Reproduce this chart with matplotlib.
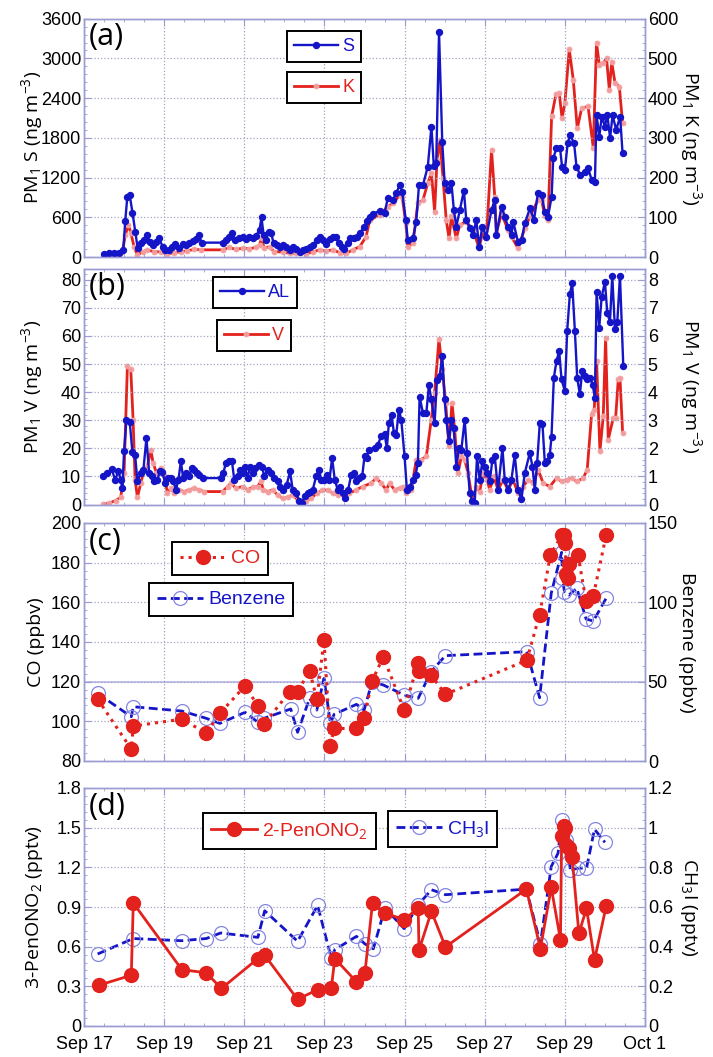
import numpy as np
import matplotlib
matplotlib.use('Agg')
import matplotlib.pyplot as plt
from matplotlib import font_manager
from matplotlib.ticker import MultipleLocator, AutoMinorLocator, FormatStrFormatter

names = {f.name for f in font_manager.fontManager.ttflist}
NARROW = 'Liberation Sans Narrow' if 'Liberation Sans Narrow' in names else 'Liberation Sans'
plt.rcParams.update({
    'font.family': [NARROW, 'DejaVu Sans'],
    'mathtext.fontset': 'custom',
    'mathtext.rm': 'Open Sans',
    'mathtext.it': 'Open Sans:italic',
    'mathtext.default': 'rm',
})

# x axis: day of September
XTICKS = [17, 19, 21, 23, 25, 27, 29, 31]
XLABELS = ['Sep 17', 'Sep 19', 'Sep 21', 'Sep 23', 'Sep 25', 'Sep 27', 'Sep 29', 'Oct 1']

# (a) PM1 S (left, ng m-3) and PM1 K (right, ng m-3)
S_PTS = [(17.50, 45), (17.63, 55), (17.75, 55), (17.88, 65), (17.98, 106), (18.03, 549), (18.08, 902),
         (18.14, 937), (18.21, 670), (18.28, 383), (18.34, 131), (18.42, 207), (18.50, 257), (18.57, 333),
         (18.64, 232), (18.73, 181), (18.79, 232), (18.88, 282), (18.96, 156), (19.03, 106), (19.11, 106),
         (19.19, 156), (19.27, 192), (19.36, 131), (19.46, 192), (19.54, 181), (19.61, 207), (19.71, 247),
         (19.79, 267), (19.86, 333), (19.94, 217), (20.46, 217), (20.54, 257), (20.63, 297), (20.69, 358),
         (20.78, 257), (20.88, 282), (20.96, 297), (21.04, 267), (21.13, 297), (21.21, 282), (21.29, 318),
         (21.38, 408), (21.43, 600), (21.48, 333), (21.54, 257), (21.61, 383), (21.67, 368), (21.73, 207),
         (21.81, 181), (21.88, 156), (21.96, 181), (22.04, 156), (22.13, 106), (22.21, 156), (22.29, 116),
         (22.38, 81), (22.46, 106), (22.54, 116), (22.63, 146), (22.71, 181), (22.81, 257), (22.88, 307),
         (22.96, 257), (23.04, 197), (23.13, 267), (23.21, 297), (23.28, 297), (23.36, 207), (23.44, 156),
         (23.50, 116), (23.58, 207), (23.64, 282), (23.73, 282), (23.81, 297), (23.89, 358), (23.98, 451),
         (24.06, 537), (24.14, 610), (24.22, 650), (24.38, 700), (24.50, 660), (24.58, 887), (24.71, 862),
         (24.79, 963), (24.88, 1089), (24.94, 988), (25.03, 560), (25.08, 257), (25.21, 282), (25.29, 534),
         (25.36, 1089), (25.46, 1089), (25.58, 1366), (25.67, 1971), (25.73, 1371), (25.79, 1416),
         (25.86, 3392), (25.94, 1744), (26.00, 1114), (26.08, 1013), (26.17, 1114), (26.23, 711),
         (26.29, 459), (26.38, 711), (26.48, 1003), (26.54, 560), (26.63, 433), (26.71, 333), (26.79, 560),
         (26.86, 156), (26.94, 459), (27.04, 307), (27.17, 711), (27.25, 862), (27.29, 333), (27.42, 761),
         (27.50, 610), (27.58, 459), (27.67, 333), (27.71, 534), (27.83, 232), (27.92, 257), (28.00, 509),
         (28.13, 736), (28.23, 560), (28.33, 973), (28.42, 938), (28.50, 685), (28.58, 610), (28.67, 912),
         (28.71, 1492), (28.79, 1643), (28.88, 1643), (28.93, 1366), (29.00, 1315), (29.07, 1719),
         (29.13, 1845), (29.23, 1719), (29.29, 1366), (29.38, 1240), (29.50, 1290), (29.58, 1341),
         (29.67, 1164), (29.75, 1139), (29.79, 2147), (29.86, 1819), (29.92, 2122), (30.00, 1971),
         (30.06, 2147), (30.13, 1794), (30.19, 2147), (30.28, 1920), (30.38, 2122), (30.44, 1567)]
K_PTS = [(17.50, 2.5), (17.71, 2.5), (17.88, 4), (17.96, 13), (18.03, 55), (18.11, 81), (18.17, 60),
         (18.25, 26), (18.33, 5), (18.46, 13), (18.58, 18), (18.75, 13), (18.92, 13), (19.08, 7.5),
         (19.25, 11), (19.42, 13), (19.58, 16), (19.75, 19), (19.92, 18), (20.46, 18), (20.63, 24),
         (20.79, 19), (20.96, 22), (21.13, 21), (21.29, 24), (21.38, 30), (21.43, 47), (21.50, 22),
         (21.63, 26), (21.75, 13), (21.96, 13), (22.13, 9), (22.29, 9), (22.42, 13), (22.54, 7.5),
         (22.71, 13), (22.88, 18), (23.04, 15), (23.21, 18), (23.38, 11), (23.54, 9), (23.71, 18),
         (23.88, 26), (24.04, 51), (24.13, 93), (24.38, 106), (24.58, 127), (24.71, 135), (24.88, 156),
         (24.94, 152), (25.03, 85), (25.08, 26), (25.21, 35), (25.33, 135), (25.46, 144), (25.58, 186),
         (25.67, 211), (25.75, 114), (25.81, 245), (25.88, 295), (25.96, 198), (26.04, 93), (26.11, 47),
         (26.17, 102), (26.29, 47), (26.38, 81), (26.54, 89), (26.71, 68), (26.86, 22), (26.96, 68),
         (27.04, 47), (27.17, 270), (27.25, 152), (27.29, 60), (27.42, 110), (27.58, 68), (27.67, 51),
         (27.83, 22), (28.00, 72), (28.13, 102), (28.33, 144), (28.42, 144), (28.50, 102), (28.58, 93),
         (28.67, 354), (28.78, 411), (28.86, 412), (28.93, 350), (29.00, 387), (29.11, 523), (29.21, 446),
         (29.31, 324), (29.42, 375), (29.58, 379), (29.71, 274), (29.79, 540), (29.86, 484), (29.96, 488),
         (30.04, 501), (30.11, 421), (30.17, 491), (30.25, 439), (30.36, 429), (30.44, 337)]

# (b) PM1 Al (left) and PM1 V (right)
AL_PTS = [(17.475, 10.0), (17.583, 11.2), (17.692, 12.6), (17.775, 8.8), (17.858, 11.8), (17.917, 8.8),
          (17.958, 5.8), (18.0, 18.9), (18.058, 30.0), (18.142, 29.3), (18.208, 18.6), (18.275, 17.7),
          (18.333, 8.2), (18.417, 11.2), (18.483, 12.4), (18.558, 23.7), (18.625, 11.2), (18.692, 10.0),
          (18.758, 8.2), (18.833, 8.8), (18.892, 11.8), (18.958, 11.4), (19.025, 7.6), (19.092, 9.4),
          (19.167, 9.4), (19.233, 8.2), (19.292, 5.2), (19.358, 8.8), (19.417, 15.4), (19.475, 9.4),
          (19.542, 11.2), (19.625, 10.0), (19.692, 13.0), (19.75, 12.4), (19.808, 11.2), (19.875, 10.6),
          (19.975, 9.4), (20.417, 9.4), (20.475, 11.2), (20.542, 14.8), (20.625, 15.4), (20.692, 15.4),
          (20.75, 8.8), (20.833, 10.0), (20.892, 12.4), (20.958, 11.2), (21.017, 13.3), (21.083, 9.4),
          (21.142, 13.5), (21.208, 11.2), (21.275, 13.0), (21.375, 14.2), (21.442, 13.5), (21.5, 10.0),
          (21.583, 12.4), (21.667, 11.2), (21.75, 9.4), (21.833, 8.2), (21.9, 6.4), (21.975, 5.2),
          (22.058, 7.0), (22.142, 11.8), (22.208, 5.2), (22.292, 4.0), (22.375, 1.4), (22.442, 0.5),
          (22.508, 2.9), (22.583, 4.0), (22.65, 4.6), (22.708, 5.2), (22.792, 10.0), (22.858, 12.4),
          (22.925, 8.8), (22.992, 8.8), (23.058, 10.6), (23.125, 8.8), (23.192, 16.5), (23.258, 8.8),
          (23.333, 5.2), (23.4, 6.4), (23.458, 4.0), (23.525, 2.2), (23.592, 5.2), (23.667, 10.6),
          (23.733, 11.2), (23.792, 8.2), (23.875, 9.4), (23.942, 10.0), (24.0, 17.1), (24.058, 16.5),
          (24.108, 19.5), (24.25, 20.1), (24.333, 21.3), (24.417, 24.3), (24.5, 25.2), (24.558, 20.1),
          (24.608, 29.0), (24.675, 31.9), (24.733, 25.6), (24.792, 24.8), (24.858, 33.8), (24.917, 30.2),
          (25.0, 17.1), (25.058, 5.2), (25.125, 6.4), (25.208, 8.8), (25.275, 10.6), (25.333, 14.8),
          (25.375, 38.3), (25.458, 32.6), (25.542, 32.4), (25.608, 42.7), (25.667, 37.4), (25.75, 29.0),
          (25.808, 44.3), (25.875, 45.7), (25.942, 52.9), (26.0, 37.4), (26.042, 30.0), (26.108, 22.5),
          (26.167, 30.2), (26.225, 27.1), (26.292, 13.5), (26.358, 20.1), (26.417, 19.5), (26.5, 30.2),
          (26.558, 18.3), (26.625, 4.0), (26.692, 1.1), (26.75, 0.5), (26.808, 17.1), (26.875, 8.8),
          (26.942, 15.4), (27.0, 13.5), (27.058, 11.2), (27.125, 8.2), (27.192, 15.9), (27.25, 17.1),
          (27.333, 5.2), (27.442, 20.1), (27.5, 8.8), (27.583, 5.2), (27.667, 8.8), (27.75, 17.7),
          (27.833, 5.2), (27.917, 1.9), (28.0, 11.2), (28.125, 18.3), (28.192, 13.5), (28.25, 5.2),
          (28.308, 14.8), (28.375, 29.0), (28.442, 28.5), (28.5, 14.8), (28.558, 15.4), (28.625, 17.7),
          (28.667, 24.2), (28.725, 45.1), (28.792, 51.1), (28.858, 54.6), (28.917, 44.5), (29.0, 40.4),
          (29.058, 61.8), (29.125, 74.9), (29.183, 78.8), (29.25, 61.8), (29.308, 45.1), (29.375, 39.2),
          (29.433, 47.5), (29.5, 45.7), (29.558, 44.5), (29.625, 45.1), (29.692, 42.7), (29.75, 38.0),
          (29.792, 75.7), (29.858, 63.0), (29.917, 73.7), (30.0, 79.3), (30.058, 68.3), (30.125, 65.0),
          (30.183, 81.4), (30.25, 62.4), (30.308, 64.8), (30.375, 81.4), (30.458, 49.3)]
V_PTS = [(17.475, 0.01), (17.625, 0.05), (17.792, 0.14), (17.917, 0.26), (18.0, 1.12), (18.083, 4.93),
         (18.167, 4.81), (18.225, 3.02), (18.275, 0.88), (18.333, 0.26), (18.417, 0.76), (18.5, 1.24),
         (18.583, 1.35), (18.667, 1.95), (18.725, 1.48), (18.808, 1.12), (18.917, 1.30), (19.0, 1.06),
         (19.083, 0.40), (19.167, 0.58), (19.25, 0.40), (19.375, 0.52), (19.5, 0.46), (19.625, 0.52),
         (19.75, 0.58), (19.875, 0.52), (20.0, 0.46), (20.458, 0.46), (20.583, 0.64), (20.667, 0.76),
         (20.792, 0.58), (20.958, 0.64), (21.083, 0.52), (21.208, 0.62), (21.333, 0.64), (21.417, 0.82),
         (21.475, 0.52), (21.583, 0.46), (21.708, 0.52), (21.833, 0.34), (21.958, 0.22), (22.083, 0.26),
         (22.208, 0.34), (22.333, 0.17), (22.417, 0.05), (22.542, 0.14), (22.667, 0.22), (22.808, 0.40),
         (22.942, 0.50), (23.083, 0.52), (23.208, 0.40), (23.333, 0.34), (23.5, 0.40), (23.625, 0.40),
         (23.792, 0.52), (23.958, 0.64), (24.167, 0.76), (24.292, 0.94), (24.417, 0.76), (24.542, 0.52),
         (24.625, 0.76), (24.75, 0.52), (24.875, 0.58), (24.958, 0.64), (25.042, 0.40), (25.167, 0.52),
         (25.292, 1.60), (25.417, 1.60), (25.542, 1.71), (25.667, 3.02), (25.75, 3.98), (25.858, 5.88),
         (25.942, 4.81), (26.025, 3.62), (26.108, 2.07), (26.183, 3.62), (26.25, 2.67), (26.333, 1.12),
         (26.417, 1.71), (26.5, 1.60), (26.583, 1.12), (26.692, 0.17), (26.792, 0.64), (26.875, 0.46),
         (26.958, 1.12), (27.058, 0.88), (27.125, 0.52), (27.225, 1.00), (27.333, 0.52), (27.458, 0.88),
         (27.583, 0.52), (27.708, 0.88), (27.833, 0.40), (27.958, 0.64), (28.083, 0.88), (28.208, 0.76),
         (28.333, 1.24), (28.458, 0.76), (28.625, 0.64), (28.792, 0.94), (28.917, 0.82), (29.042, 0.88),
         (29.167, 0.94), (29.292, 0.82), (29.458, 0.94), (29.558, 1.24), (29.667, 3.21), (29.733, 3.38),
         (29.792, 5.11), (29.875, 1.89), (29.958, 3.14), (30.017, 5.94), (30.083, 2.31), (30.208, 3.08),
         (30.267, 3.08), (30.333, 4.45), (30.375, 4.51), (30.442, 2.55)]

# (c) CO (left, ppbv) and benzene (right, ppbv)
CO_PTS = [(17.34, 111.2), (18.18, 86.0), (18.23, 97.6), (19.44, 101.1), (20.05, 94.1), (20.39, 104.0),
          (21.02, 117.9), (21.34, 107.7), (21.49, 98.5), (22.13, 114.9), (22.33, 114.9), (22.63, 125.6),
          (22.81, 111.2), (22.99, 140.9), (23.15, 87.6), (23.24, 96.4), (23.80, 96.4), (23.99, 101.8),
          (24.19, 120.4), (24.47, 132.5), (24.99, 105.7), (25.34, 129.5), (25.36, 125.3), (25.66, 123.3),
          (26.02, 113.6), (28.05, 130.8), (28.37, 153.8), (28.64, 184.0), (28.92, 193.8), (28.98, 194.0),
          (29.01, 190.1), (29.03, 174.5), (29.07, 172.5), (29.10, 179.5), (29.33, 183.7), (29.53, 160.5),
          (29.71, 163.2), (30.03, 193.8)]
BENZ_PTS = [(17.34, 42.6), (18.18, 27.9), (18.23, 34.2), (19.44, 31.5), (20.05, 26.9), (20.39, 23.7),
            (21.02, 30.7), (21.34, 24.4), (21.49, 26.9), (22.16, 32.8), (22.33, 18.1), (22.63, 39.5),
            (22.81, 32.1), (22.99, 52.1), (23.15, 23.7), (23.24, 29.4), (23.80, 35.7), (23.99, 32.1),
            (24.19, 50.0), (24.47, 47.9), (24.99, 41.6), (25.34, 39.5), (25.66, 56.3), (26.02, 66.4),
            (28.05, 68.9), (28.37, 39.9), (28.66, 105.7), (28.92, 131.5), (28.94, 115.1), (28.99, 106.7),
            (29.10, 104.6), (29.30, 108.8), (29.53, 89.5), (29.71, 88.2), (30.03, 102.5)]

# (d) 2-PenONO2 (left, pptv) and CH3I (right, pptv)
PEN_PTS = [(17.38, 0.309), (18.18, 0.384), (18.23, 0.930), (19.44, 0.427), (20.05, 0.402), (20.43, 0.284),
           (21.34, 0.510), (21.51, 0.535), (22.33, 0.201), (22.83, 0.276), (23.17, 0.284), (23.26, 0.510),
           (23.80, 0.334), (24.01, 0.402), (24.20, 0.930), (24.51, 0.854), (24.99, 0.804), (25.34, 0.892),
           (25.36, 0.573), (25.67, 0.867), (26.02, 0.598), (28.04, 1.035), (28.39, 0.585), (28.66, 1.048),
           (28.89, 0.653), (28.92, 1.44), (28.97, 1.51), (29.01, 1.50), (29.03, 1.37), (29.10, 1.35),
           (29.18, 1.28), (29.35, 0.70), (29.54, 0.89), (29.74, 0.50), (30.03, 0.905)]
CH3I_PTS = [(17.34, 0.363), (18.23, 0.441), (19.44, 0.430), (20.05, 0.441), (20.41, 0.469), (21.34, 0.447),
            (21.51, 0.581), (22.33, 0.427), (22.83, 0.608), (23.17, 0.343), (23.26, 0.385), (23.80, 0.452),
            (24.01, 0.414), (24.22, 0.389), (24.51, 0.595), (24.99, 0.491), (25.34, 0.611), (25.67, 0.687),
            (26.02, 0.662), (28.04, 0.690), (28.39, 0.414), (28.66, 0.804), (28.83, 0.871), (28.92, 1.039),
            (29.03, 0.938), (29.14, 0.787), (29.34, 0.796), (29.54, 0.796), (29.74, 0.992), (30.00, 0.926)]

BLUE = '#1515c8'
RED = '#e3211d'
FRAME = '#9c9cd4'
GRID = '#a4a4c4'

W, H = 713, 1057
fig = plt.figure(figsize=(W / 100, H / 100), dpi=100)


def unzip(pts):
    a = np.array(pts, dtype=float)
    return a[:, 0], a[:, 1]


def panel(top, bottom, ylim, ystep, ylim2, ystep2, bottom_labels=False):
    ax = fig.add_axes([84 / W, 1 - bottom / H, 561 / W, (bottom - top) / H])
    ax2 = ax.twinx()
    ax.set_zorder(ax2.get_zorder() + 1)
    ax.patch.set_visible(False)
    ax.set_xlim(17, 31)
    ax.set_ylim(*ylim)
    ax2.set_ylim(*ylim2)
    ax.set_xticks(XTICKS)
    if bottom_labels:
        ax.set_xticklabels(XLABELS)
    else:
        ax.set_xticklabels([])
    ax.xaxis.set_minor_locator(MultipleLocator(0.5))
    ax.yaxis.set_major_locator(MultipleLocator(ystep))
    ax.yaxis.set_minor_locator(AutoMinorLocator(5))
    ax2.yaxis.set_major_locator(MultipleLocator(ystep2))
    ax2.yaxis.set_minor_locator(AutoMinorLocator(5))
    ax.yaxis.set_major_formatter(FormatStrFormatter('%g'))
    ax2.yaxis.set_major_formatter(FormatStrFormatter('%g'))
    for a in (ax, ax2):
        for sp in a.spines.values():
            sp.set_color(FRAME)
            sp.set_linewidth(1.0)
        a.tick_params(which='both', direction='in', color=FRAME, labelcolor='black', labelsize=13, pad=2)
        a.tick_params(which='major', length=5)
        a.tick_params(which='minor', length=2.5)
    ax.tick_params(axis='x', which='both', top=True)
    ax.grid(True, which='major', color=GRID, linestyle=':', linewidth=0.9)
    ax.set_axisbelow(True)
    return ax, ax2


def ylabels(ax, ax2, left, right):
    ax.set_ylabel(left, fontsize=14, family='Open Sans')
    ax2.set_ylabel(right, fontsize=14, family='Open Sans', rotation=-90, va='bottom')
    ax.yaxis.set_label_coords(-0.07, 0.5)
    ax2.yaxis.set_label_coords(1.058, 0.5)


def letter(ax, s):
    ax.text(0.008, 0.985, s, transform=ax.transAxes, va='top', ha='left', fontsize=22, family='Open Sans')


def box_legend(handle, label, x, y, size=13):
    leg = fig.legend([handle], [label], loc='upper left', bbox_to_anchor=(x / W, 1 - y / H),
                     frameon=True, fancybox=False, framealpha=1, edgecolor='black', fontsize=size,
                     handlelength=2.4, handletextpad=0.25, borderpad=0.4, borderaxespad=0,
                     labelcolor='linecolor')
    leg.get_frame().set_linewidth(1.4)
    return leg


small_blue = dict(color=BLUE, lw=1.7, marker='o', ms=4.3, mfc=BLUE, mec=BLUE)
small_red = dict(color=RED, lw=2.0, marker='o', ms=3.6, mfc='#f39a9a', mec='#f5a8a8', mew=0.6)

# ---- (a)
ax, ax2 = panel(18.7, 257, (0, 3600), 600, (0, 600), 100)
x, y = unzip(K_PTS)
hk, = ax2.plot(x, y, **small_red)
x, y = unzip(S_PTS)
hs, = ax.plot(x, y, **small_blue)
ylabels(ax, ax2, 'PM$_1$ S (ng m$^{-3}$)', 'PM$_1$ K (ng m$^{-3}$)')
letter(ax, '(a)')
box_legend(hs, 'S', 287, 31)
box_legend(hk, 'K', 287, 72)

# ---- (b)
ax, ax2 = panel(268.5, 504.5, (0, 84), 10, (0, 8.4), 1)
x, y = unzip(V_PTS)
hv, = ax2.plot(x, y, **small_red)
x, y = unzip(AL_PTS)
ha, = ax.plot(x, y, **small_blue)
ylabels(ax, ax2, 'PM$_1$ V (ng m$^{-3}$)', 'PM$_1$ V (ng m$^{-3}$)')
letter(ax, '(b)')
box_legend(ha, 'AL', 213, 277)
box_legend(hv, 'V', 217, 320)

# ---- (c)
ax, ax2 = panel(523, 761, (80, 200), 20, (0, 150), 50)
ax2.axhline(50, color='#b0b0e4', lw=1.1, zorder=0)
x, y = unzip(BENZ_PTS)
hb, = ax2.plot(x, y, color=BLUE, ls='--', dashes=(3.2, 1.6), lw=2.0, marker='o', ms=10,
               mfc='none', mec='#8585e2', mew=0.9)
x, y = unzip(CO_PTS)
hc, = ax.plot(x, y, color=RED, ls=':', lw=2.2, marker='o', ms=10, mfc=RED, mec=RED)
ylabels(ax, ax2, 'CO (ppbv)', 'Benzene (ppbv)')
letter(ax, '(c)')
box_legend(hc, 'CO', 172, 542, 14)
box_legend(hb, 'Benzene', 149, 583, 14)

# ---- (d)
ax, ax2 = panel(788, 1026, (0, 1.8), 0.3, (0, 1.2), 0.2, bottom_labels=True)
x, y = unzip(CH3I_PTS)
hi, = ax2.plot(x, y, color=BLUE, ls='--', dashes=(3.2, 1.6), lw=2.0, marker='o', ms=10,
               mfc='none', mec='#8585e2', mew=0.9)
x, y = unzip(PEN_PTS)
hp, = ax.plot(x, y, color=RED, ls='-', lw=2.0, marker='o', ms=10, mfc=RED, mec=RED)
ylabels(ax, ax2, '3-PenONO$_2$ (pptv)', 'CH$_3$I (pptv)')
letter(ax, '(d)')
ax.tick_params(axis='x', labelsize=13, pad=7)
box_legend(hp, '2-PenONO$_2$', 203, 813, 14)
box_legend(hi, 'CH$_3$I', 388, 811, 14)

fig.savefig('out.png', dpi=100)
